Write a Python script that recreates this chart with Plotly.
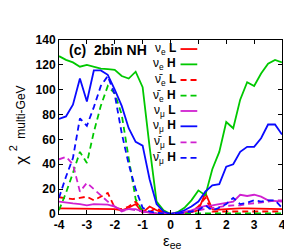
import plotly.graph_objects as go

x_vals = [-4, -3.75, -3.5, -3.25, -3, -2.75, -2.5, -2.25, -2, -1.75, -1.5, -1.25, -1, -0.75, -0.5, -0.25,
          0, 0.25, 0.5, 0.75, 1, 1.25, 1.5, 1.75, 2, 2.25, 2.5, 2.75, 3, 3.25, 3.5, 3.75, 4]

nue_L = [4.5, 4.5, 4.5, 4.5, 4.5, 4.5, 4.5, 4.0, 4.0, 3.0, 5.0, 8.0, 1.0, 6.0, 3.0, 1.0,
         0, 0.5, 1.0, 1.5, 3.0, 17.0, 4.0, 3.5, 4.0, 4.5, 4.5, 4.5, 4.5, 4.5, 4.5, 4.5, 4.0]
nue_H = [127, 124, 122, 118.5, 120, 118.5, 117, 116.5, 116, 111, 109, 114.5, 102, 54, 10, 3,
         0, 1.5, 5, 11, 19, 15, 36, 50, 74, 69, 92, 106, 103, 113, 121, 124, 122]
anue_L = [13.5, 13, 12, 13, 14, 11, 14, 17, 5, 4, 6, 10, 3, 1.5, 5, 1,
          0, 0.5, 1, 1.5, 6, 13, 2, 2, 2, 2, 2, 2, 2, 2, 2, 2, 2]
anue_H = [3, 17, 33, 50, 41, 66, 87, 103, 97, 80, 45, 12, 2, 1, 0.5, 0.2,
          0, 0.3, 0.5, 0.5, 0.5, 0.5, 0.5, 0.5, 0.5, 0.5, 0.5, 0.5, 0.5, 0.5, 0.5, 0.5, 0.5]
numu_L = [10, 9, 8.5, 8, 7, 8, 8, 7.5, 6, 3, 4, 4, 2, 1, 0.5, 0.2,
          0, 0.5, 1.5, 3, 5, 6.5, 7, 8, 9, 10, 15.5, 14.5, 15.5, 14, 11, 10.5, 10]
numu_H = [76.5, 78.5, 88, 109, 90.5, 115.5, 115.5, 112, 100, 87, 69, 58, 55, 28, 8, 2,
          0, 1, 3, 6, 10, 18, 23, 24, 38, 40, 50, 54, 54, 61, 72, 72, 64]
anumu_L = [44, 46, 40, 18, 25, 20, 15, 10, 6, 2, 4, 3, 1.5, 1, 0.5, 0.2,
           0, 0.3, 1, 2, 3, 4, 5, 6, 6.5, 7, 7, 8, 8.5, 9, 10, 11, 11]
anumu_H = [13, 30, 45, 77, 71, 86, 103, 111, 96, 65, 40, 20, 5, 2, 1, 0.5,
           0, 0.5, 1, 2, 3, 7, 3, 5, 8, 13, 8, 9, 11, 10, 11, 11, 5]

x_ticks = [-4, -3, -2, -1, 0, 1, 2, 3, 4]
y_ticks = [0, 20, 40, 60, 80, 100, 120, 140]

RED = "#ff0000"
GREEN = "#00c800"
BLUE = "#0a0aff"
MAG = "#d020d0"
DASH = "6px,4px"

series = [
    ("ν<sub>e</sub> <b>L</b>", nue_L, RED, "solid"),
    ("ν<sub>e</sub> <b>H</b>", nue_H, GREEN, "solid"),
    ("ν\u0304<sub>e</sub> <b>L</b>", anue_L, RED, DASH),
    ("ν\u0304<sub>e</sub> <b>H</b>", anue_H, GREEN, DASH),
    ("ν<sub>μ</sub> <b>L</b>", numu_L, MAG, "solid"),
    ("ν<sub>μ</sub> <b>H</b>", numu_H, BLUE, "solid"),
    ("ν\u0304<sub>μ</sub> <b>L</b>", anumu_L, MAG, DASH),
    ("ν\u0304<sub>μ</sub> <b>H</b>", anumu_H, BLUE, DASH),
]

FONT = "Liberation Sans, Arial, sans-serif"
fig = go.Figure()
for name, ys, col, dash in series:
    fig.add_trace(go.Scatter(x=x_vals, y=ys, mode="lines", name=name,
                             line=dict(color=col, width=1.8, dash=dash), showlegend=False))

# manual legend: text then line sample (gnuplot style)
leg_y = [0.948, 0.860, 0.770, 0.680, 0.592, 0.504, 0.412, 0.322]
for (name, ys, col, dash), ly in zip(series, leg_y):
    fig.add_annotation(xref="paper", yref="paper", x=0.532, y=ly, text=name, showarrow=False,
                       xanchor="right", yanchor="middle", font=dict(family=FONT, size=12, color="black"))
    fig.add_shape(type="line", xref="paper", yref="paper", x0=0.545, x1=0.620, y0=ly, y1=ly,
                  line=dict(color=col, width=1.8, dash=dash))

fig.add_annotation(xref="paper", yref="paper", x=0.035, y=0.94, text="<b>(c)  2bin NH</b>",
                   showarrow=False, xanchor="left", yanchor="middle",
                   font=dict(family=FONT, size=14, color="black"))

# y axis title pieces
fig.add_annotation(xref="paper", yref="paper", x=-0.172, y=0.31, text="χ", showarrow=False,
                   textangle=-90, xanchor="center", yanchor="middle",
                   font=dict(family=FONT, size=17, color="black"))
fig.add_annotation(xref="paper", yref="paper", x=-0.208, y=0.375, text="2", showarrow=False,
                   textangle=-90, xanchor="center", yanchor="middle",
                   font=dict(family=FONT, size=11, color="black"))
fig.add_annotation(xref="paper", yref="paper", x=-0.168, y=0.585, text="multi-GeV", showarrow=False,
                   textangle=-90, xanchor="center", yanchor="middle",
                   font=dict(family=FONT, size=12, color="black"))
# x axis title
fig.add_annotation(xref="paper", yref="paper", x=0.511, y=-0.16, text="ε<sub>ee</sub>", showarrow=False,
                   xanchor="center", yanchor="middle", font=dict(family=FONT, size=15, color="black"))

axis_common = dict(showline=True, linecolor="black", linewidth=1, mirror="allticks",
                   ticks="inside", ticklen=4, tickcolor="black", showgrid=False, zeroline=False,
                   tickfont=dict(family=FONT, size=12, color="black"))
fig.update_xaxes(range=[-4, 4], tickvals=x_ticks, ticktext=[f"<b>{v}</b>" for v in x_ticks], **axis_common)
fig.update_yaxes(range=[0, 140], tickvals=y_ticks, ticktext=[f"<b>{v}</b>" for v in y_ticks], **axis_common)

fig.update_layout(width=292, height=250, margin=dict(l=51, r=18, t=32, b=44),
                  plot_bgcolor="white", paper_bgcolor="white", showlegend=False,
                  font=dict(family=FONT, color="black"))
fig.write_html("out.html")
